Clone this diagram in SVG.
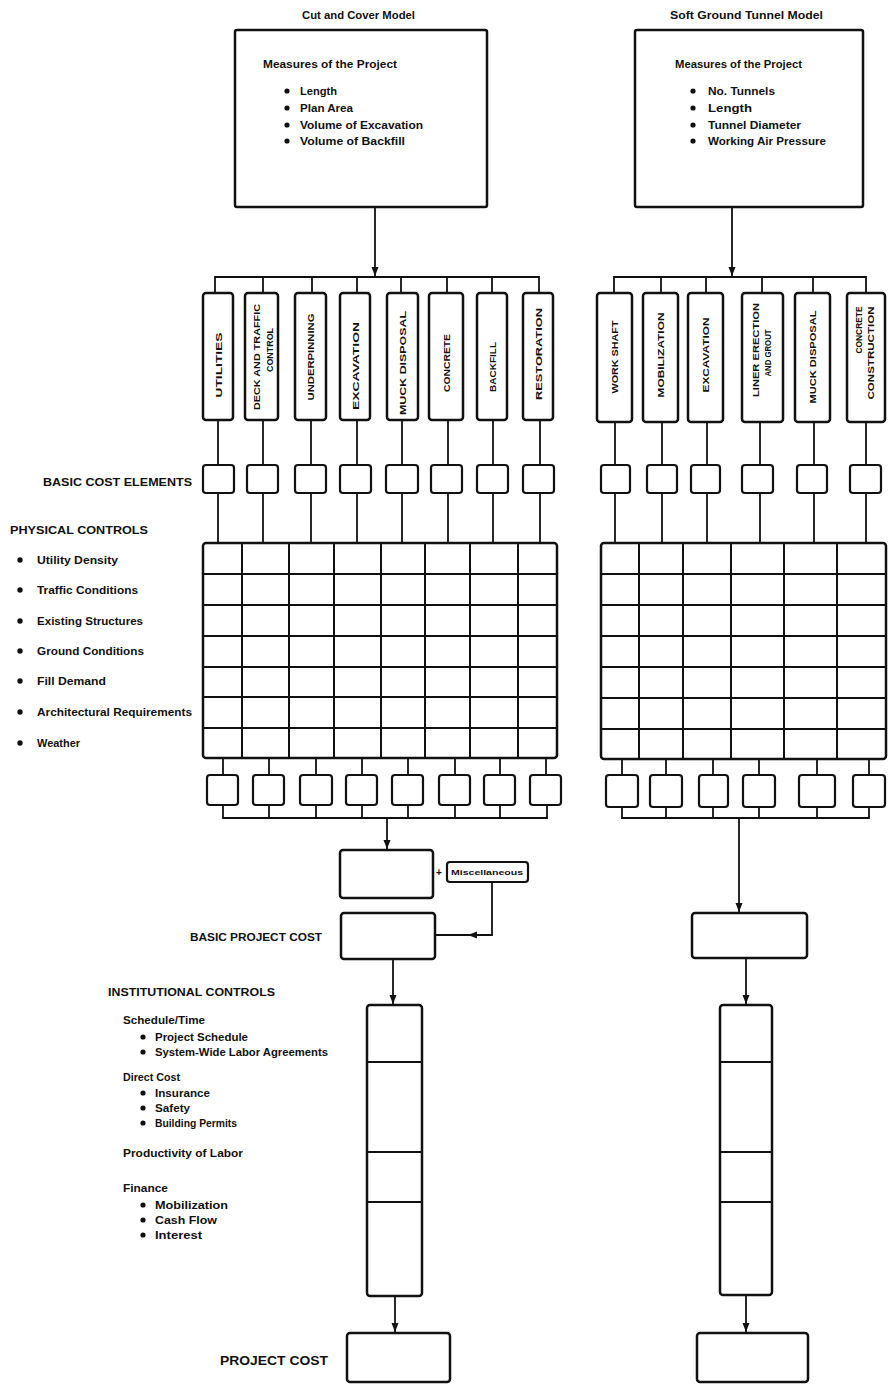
<svg xmlns="http://www.w3.org/2000/svg" width="888" height="1394" viewBox="0 0 888 1394">
<style>
.bx{fill:#fff;stroke:#111;stroke-width:2.5}
.sq{fill:#fff;stroke:#111;stroke-width:2.2}
.ln{fill:none;stroke:#111;stroke-width:1.8}
.gl{fill:none;stroke:#111;stroke-width:2}
.t{font-family:"Liberation Sans",Arial,sans-serif;font-weight:bold;fill:#111;font-size:10px}
.v{font-family:"Liberation Sans",Arial,sans-serif;font-weight:bold;fill:#111;font-size:9.5px;text-anchor:middle}
.v2{font-family:"Liberation Sans",Arial,sans-serif;font-weight:bold;fill:#111;font-size:8.5px;text-anchor:middle}
.b{fill:#111}
</style>
<defs>
<marker id="ah" markerUnits="userSpaceOnUse" markerWidth="9" markerHeight="8" viewBox="0 0 9 8" refX="9" refY="4" orient="auto">
<path d="M0,0.5 L9,4 L0,7.5 z" fill="#111"/>
</marker>
</defs>
<rect width="888" height="1394" fill="#fff"/>

<g id="connectors">
<line class="ln" x1="375" y1="207" x2="375" y2="276" marker-end="url(#ah)"/>
<path class="ln" d="M215,293 V277 H539 V293 M263,277 V293 M312,277 V293 M357,277 V293 M401,277 V293 M447,277 V293 M492,277 V293"/>
<path class="ln" d="M218,420 V465 M263,420 V465 M311,420 V465 M357,420 V465 M402,420 V465 M448,420 V465 M493,420 V465 M540,420 V465"/>
<path class="ln" d="M218,493 V543 M263,493 V543 M311,493 V543 M357,493 V543 M402,493 V543 M448,493 V543 M493,493 V543 M540,493 V543"/>
<path class="ln" d="M223,758 V775 M269,758 V775 M316,758 V775 M362,758 V775 M408,758 V775 M455,758 V775 M500,758 V775 M546,758 V775"/>
<path class="ln" d="M223,805 V818 H547 V805 M269,805 V818 M316,805 V818 M362,805 V818 M408,805 V818 M455,805 V818 M500,805 V818"/>
<line class="ln" x1="387" y1="818" x2="387" y2="849" marker-end="url(#ah)"/>
<path class="ln" d="M492,882 V935 H436"/>
<line class="ln" x1="492" y1="935" x2="468" y2="935" marker-end="url(#ah)"/>
<line class="ln" x1="393" y1="959" x2="393" y2="1004" marker-end="url(#ah)"/>
<line class="ln" x1="395" y1="1296" x2="395" y2="1332" marker-end="url(#ah)"/>
<line class="ln" x1="732" y1="207" x2="732" y2="276" marker-end="url(#ah)"/>
<path class="ln" d="M614,293 V277 H866 V293 M661,277 V293 M706,277 V293 M762,277 V293 M813,277 V293"/>
<path class="ln" d="M615,422 V465 M662,422 V465 M707,422 V465 M760,422 V465 M814,422 V465 M866,422 V465"/>
<path class="ln" d="M615,493 V543 M662,493 V543 M707,493 V543 M760,493 V543 M814,493 V543 M866,493 V543"/>
<path class="ln" d="M622,759 V775 M666,759 V775 M713,759 V775 M759,759 V775 M817,759 V775 M869,759 V775"/>
<path class="ln" d="M622,807 V818 H869 V807 M666,807 V818 M713,807 V818 M759,807 V818 M817,807 V818"/>
<line class="ln" x1="739" y1="818" x2="739" y2="912" marker-end="url(#ah)"/>
<line class="ln" x1="746" y1="958" x2="746" y2="1004" marker-end="url(#ah)"/>
<line class="ln" x1="746" y1="1295" x2="746" y2="1332" marker-end="url(#ah)"/>
</g>

<g id="cut-cover-model">
<text class="t" x="302" y="19" textLength="113" lengthAdjust="spacingAndGlyphs">Cut and Cover Model</text>
<rect class="bx" x="235" y="30" width="252" height="177" rx="2"/>
<text class="t" x="263" y="68" textLength="134" lengthAdjust="spacingAndGlyphs">Measures of the Project</text>
<circle class="b" cx="287" cy="91" r="2.6"/><text class="t" x="300" y="95" textLength="37" lengthAdjust="spacingAndGlyphs">Length</text>
<circle class="b" cx="287" cy="108" r="2.6"/><text class="t" x="300" y="112" textLength="53" lengthAdjust="spacingAndGlyphs">Plan Area</text>
<circle class="b" cx="287" cy="125" r="2.6"/><text class="t" x="300" y="129" textLength="123" lengthAdjust="spacingAndGlyphs">Volume of Excavation</text>
<circle class="b" cx="287" cy="141" r="2.6"/><text class="t" x="300" y="145" textLength="105" lengthAdjust="spacingAndGlyphs">Volume of Backfill</text>
</g>

<g id="soft-ground-model">
<text class="t" x="670" y="19" textLength="153" lengthAdjust="spacingAndGlyphs">Soft Ground Tunnel Model</text>
<rect class="bx" x="635" y="30" width="228" height="177" rx="2"/>
<text class="t" x="675" y="68" textLength="127" lengthAdjust="spacingAndGlyphs">Measures of the Project</text>
<circle class="b" cx="693" cy="91" r="2.6"/><text class="t" x="708" y="95" textLength="67" lengthAdjust="spacingAndGlyphs">No. Tunnels</text>
<circle class="b" cx="693" cy="108" r="2.6"/><text class="t" x="708" y="112" textLength="44" lengthAdjust="spacingAndGlyphs">Length</text>
<circle class="b" cx="693" cy="125" r="2.6"/><text class="t" x="708" y="129" textLength="93" lengthAdjust="spacingAndGlyphs">Tunnel Diameter</text>
<circle class="b" cx="693" cy="141" r="2.6"/><text class="t" x="708" y="145" textLength="118" lengthAdjust="spacingAndGlyphs">Working Air Pressure</text>
</g>

<g id="left-activities">
<rect class="bx" x="203" y="293" width="30" height="127" rx="3"/>
<text class="v" transform="translate(218,365) rotate(-90)" y="3.5" textLength="65" lengthAdjust="spacingAndGlyphs">UTILITIES</text>
<rect class="bx" x="245" y="293" width="33" height="127" rx="3"/>
<text class="v2" transform="translate(257,357) rotate(-90)" y="3.2" textLength="106" lengthAdjust="spacingAndGlyphs">DECK AND TRAFFIC</text>
<text class="v2" transform="translate(270,350) rotate(-90)" y="3.2" textLength="44" lengthAdjust="spacingAndGlyphs">CONTROL</text>
<rect class="bx" x="295" y="293" width="31" height="127" rx="3"/>
<text class="v" transform="translate(310.5,357) rotate(-90)" y="3.5" textLength="87" lengthAdjust="spacingAndGlyphs">UNDERPINNING</text>
<rect class="bx" x="340" y="293" width="30" height="127" rx="3"/>
<text class="v" transform="translate(355,366) rotate(-90)" y="3.5" textLength="88" lengthAdjust="spacingAndGlyphs">EXCAVATION</text>
<rect class="bx" x="387" y="293" width="31" height="127" rx="3"/>
<text class="v" transform="translate(402.5,363) rotate(-90)" y="3.5" textLength="104" lengthAdjust="spacingAndGlyphs">MUCK DISPOSAL</text>
<rect class="bx" x="429" y="293" width="34" height="127" rx="3"/>
<text class="v" transform="translate(446,363) rotate(-90)" y="3.5" textLength="58" lengthAdjust="spacingAndGlyphs">CONCRETE</text>
<rect class="bx" x="477" y="293" width="30" height="127" rx="3"/>
<text class="v" transform="translate(492,367) rotate(-90)" y="3.5" textLength="50" lengthAdjust="spacingAndGlyphs">BACKFILL</text>
<rect class="bx" x="523" y="293" width="30" height="127" rx="3"/>
<text class="v" transform="translate(538,354) rotate(-90)" y="3.5" textLength="92" lengthAdjust="spacingAndGlyphs">RESTORATION</text>
</g>

<g id="right-activities">
<rect class="bx" x="597" y="293" width="35" height="129" rx="3"/>
<text class="v" transform="translate(614.5,357) rotate(-90)" y="3.5" textLength="73" lengthAdjust="spacingAndGlyphs">WORK SHAFT</text>
<rect class="bx" x="643" y="293" width="35" height="129" rx="3"/>
<text class="v" transform="translate(660.5,355) rotate(-90)" y="3.5" textLength="85" lengthAdjust="spacingAndGlyphs">MOBILIZATION</text>
<rect class="bx" x="688" y="293" width="35" height="129" rx="3"/>
<text class="v" transform="translate(705.5,355) rotate(-90)" y="3.5" textLength="75" lengthAdjust="spacingAndGlyphs">EXCAVATION</text>
<rect class="bx" x="742" y="293" width="41" height="129" rx="3"/>
<text class="v2" transform="translate(756,350) rotate(-90)" y="3.2" textLength="94" lengthAdjust="spacingAndGlyphs">LINER ERECTION</text>
<text class="v2" transform="translate(768,353) rotate(-90)" y="3.2" textLength="47" lengthAdjust="spacingAndGlyphs">AND GROUT</text>
<rect class="bx" x="795" y="293" width="35" height="129" rx="3"/>
<text class="v" transform="translate(812.5,357) rotate(-90)" y="3.5" textLength="93" lengthAdjust="spacingAndGlyphs">MUCK DISPOSAL</text>
<rect class="bx" x="847" y="293" width="38" height="129" rx="3"/>
<text class="v2" transform="translate(859,330) rotate(-90)" y="3.2" textLength="47" lengthAdjust="spacingAndGlyphs">CONCRETE</text>
<text class="v2" transform="translate(871,353) rotate(-90)" y="3.2" textLength="93" lengthAdjust="spacingAndGlyphs">CONSTRUCTION</text>
</g>

<g id="basic-cost-elements">
<text class="t" x="43" y="486" textLength="149" lengthAdjust="spacingAndGlyphs">BASIC COST ELEMENTS</text>
<rect class="sq" x="203" y="465" width="31" height="28" rx="3"/>
<rect class="sq" x="247" y="465" width="31" height="28" rx="3"/>
<rect class="sq" x="295" y="465" width="31" height="28" rx="3"/>
<rect class="sq" x="340" y="465" width="31" height="28" rx="3"/>
<rect class="sq" x="386" y="465" width="32" height="28" rx="3"/>
<rect class="sq" x="431" y="465" width="31" height="28" rx="3"/>
<rect class="sq" x="477" y="465" width="31" height="28" rx="3"/>
<rect class="sq" x="523" y="465" width="31" height="28" rx="3"/>
<rect class="sq" x="601" y="465" width="29" height="28" rx="3"/>
<rect class="sq" x="647" y="465" width="30" height="28" rx="3"/>
<rect class="sq" x="691" y="465" width="29" height="28" rx="3"/>
<rect class="sq" x="742" y="465" width="31" height="28" rx="3"/>
<rect class="sq" x="797" y="465" width="30" height="28" rx="3"/>
<rect class="sq" x="850" y="465" width="31" height="28" rx="3"/>
</g>

<g id="physical-controls">
<text class="t" x="10" y="534" textLength="138" lengthAdjust="spacingAndGlyphs">PHYSICAL CONTROLS</text>
<circle class="b" cx="20" cy="560" r="2.7"/><text class="t" x="37" y="564" textLength="81" lengthAdjust="spacingAndGlyphs">Utility Density</text>
<circle class="b" cx="20" cy="590" r="2.7"/><text class="t" x="37" y="594" textLength="101" lengthAdjust="spacingAndGlyphs">Traffic Conditions</text>
<circle class="b" cx="20" cy="621" r="2.7"/><text class="t" x="37" y="625" textLength="106" lengthAdjust="spacingAndGlyphs">Existing Structures</text>
<circle class="b" cx="20" cy="651" r="2.7"/><text class="t" x="37" y="655" textLength="107" lengthAdjust="spacingAndGlyphs">Ground Conditions</text>
<circle class="b" cx="20" cy="681" r="2.7"/><text class="t" x="37" y="685" textLength="69" lengthAdjust="spacingAndGlyphs">Fill Demand</text>
<circle class="b" cx="20" cy="712" r="2.7"/><text class="t" x="37" y="716" textLength="155" lengthAdjust="spacingAndGlyphs">Architectural Requirements</text>
<circle class="b" cx="20" cy="743" r="2.7"/><text class="t" x="37" y="747" textLength="43" lengthAdjust="spacingAndGlyphs">Weather</text>
</g>

<g id="left-matrix">
<rect class="bx" x="203" y="543" width="354" height="215" rx="3"/>
<path class="gl" d="M242,543 V758 M289,543 V758 M334,543 V758 M381,543 V758 M425,543 V758 M470,543 V758 M518,543 V758 M203,574 H557 M203,605 H557 M203,636 H557 M203,667 H557 M203,697 H557 M203,728 H557"/>
</g>

<g id="right-matrix">
<rect class="bx" x="601" y="543" width="285" height="216" rx="3"/>
<path class="gl" d="M639,543 V759 M683,543 V759 M731,543 V759 M784,543 V759 M837,543 V759 M601,574 H886 M601,605 H886 M601,636 H886 M601,667 H886 M601,698 H886 M601,729 H886"/>
</g>

<g id="adjusted-elements">
<rect class="sq" x="207" y="775" width="31" height="30" rx="3"/>
<rect class="sq" x="253" y="775" width="31" height="30" rx="3"/>
<rect class="sq" x="300" y="775" width="32" height="30" rx="3"/>
<rect class="sq" x="346" y="775" width="31" height="30" rx="3"/>
<rect class="sq" x="392" y="775" width="31" height="30" rx="3"/>
<rect class="sq" x="439" y="775" width="31" height="30" rx="3"/>
<rect class="sq" x="484" y="775" width="31" height="30" rx="3"/>
<rect class="sq" x="530" y="775" width="31" height="30" rx="3"/>
<rect class="sq" x="606" y="775" width="32" height="32" rx="3"/>
<rect class="sq" x="650" y="775" width="32" height="32" rx="3"/>
<rect class="sq" x="699" y="775" width="29" height="32" rx="3"/>
<rect class="sq" x="743" y="775" width="32" height="32" rx="3"/>
<rect class="sq" x="799" y="775" width="36" height="32" rx="3"/>
<rect class="sq" x="853" y="775" width="32" height="32" rx="3"/>
</g>

<g id="left-subtotal">
<rect class="bx" x="340" y="850" width="93" height="48" rx="3"/>
<text class="t" x="436" y="876" font-size="9">+</text>
<rect class="sq" x="447" y="862" width="81" height="20" rx="3"/>
<text class="t" x="451" y="875" style="font-size:6.5px" textLength="72" lengthAdjust="spacingAndGlyphs">Miscellaneous</text>
</g>

<g id="left-basic-project-cost">
<text class="t" x="190" y="941" textLength="132" lengthAdjust="spacingAndGlyphs">BASIC PROJECT COST</text>
<rect class="bx" x="341" y="913" width="94" height="46" rx="3"/>
</g>

<g id="right-basic-project-cost">
<rect class="bx" x="692" y="913" width="115" height="45" rx="3"/>
</g>

<g id="institutional-controls">
<text class="t" x="108" y="996" textLength="167" lengthAdjust="spacingAndGlyphs">INSTITUTIONAL CONTROLS</text>
<text class="t" x="123" y="1024" textLength="82" lengthAdjust="spacingAndGlyphs">Schedule/Time</text>
<circle class="b" cx="143" cy="1037" r="2.6"/><text class="t" x="155" y="1041" textLength="93" lengthAdjust="spacingAndGlyphs">Project Schedule</text>
<circle class="b" cx="143" cy="1052" r="2.6"/><text class="t" x="155" y="1056" textLength="173" lengthAdjust="spacingAndGlyphs">System-Wide Labor Agreements</text>
<text class="t" x="123" y="1081" textLength="57" lengthAdjust="spacingAndGlyphs">Direct Cost</text>
<circle class="b" cx="143" cy="1093" r="2.6"/><text class="t" x="155" y="1097" textLength="55" lengthAdjust="spacingAndGlyphs">Insurance</text>
<circle class="b" cx="143" cy="1108" r="2.6"/><text class="t" x="155" y="1112" textLength="35" lengthAdjust="spacingAndGlyphs">Safety</text>
<circle class="b" cx="143" cy="1123" r="2.6"/><text class="t" x="155" y="1127" textLength="82" lengthAdjust="spacingAndGlyphs">Building Permits</text>
<text class="t" x="123" y="1157" textLength="120" lengthAdjust="spacingAndGlyphs">Productivity of Labor</text>
<text class="t" x="123" y="1192" textLength="45" lengthAdjust="spacingAndGlyphs">Finance</text>
<circle class="b" cx="143" cy="1205" r="2.6"/><text class="t" x="155" y="1209" textLength="73" lengthAdjust="spacingAndGlyphs">Mobilization</text>
<circle class="b" cx="143" cy="1220" r="2.6"/><text class="t" x="155" y="1224" textLength="62" lengthAdjust="spacingAndGlyphs">Cash Flow</text>
<circle class="b" cx="143" cy="1235" r="2.6"/><text class="t" x="155" y="1239" textLength="47" lengthAdjust="spacingAndGlyphs">Interest</text>
</g>

<g id="left-institutional-stack">
<rect class="bx" x="367" y="1005" width="55" height="291" rx="3"/>
<path class="gl" d="M367,1062 H422 M367,1152 H422 M367,1202 H422"/>
</g>

<g id="right-institutional-stack">
<rect class="bx" x="720" y="1005" width="52" height="290" rx="3"/>
<path class="gl" d="M720,1062 H772 M720,1152 H772 M720,1202 H772"/>
</g>

<g id="left-project-cost">
<text class="t" x="220" y="1365" style="font-size:12px" textLength="108" lengthAdjust="spacingAndGlyphs">PROJECT COST</text>
<rect class="bx" x="347" y="1333" width="103" height="49" rx="3"/>
</g>

<g id="right-project-cost">
<rect class="bx" x="697" y="1333" width="111" height="49" rx="3"/>
</g>
</svg>
